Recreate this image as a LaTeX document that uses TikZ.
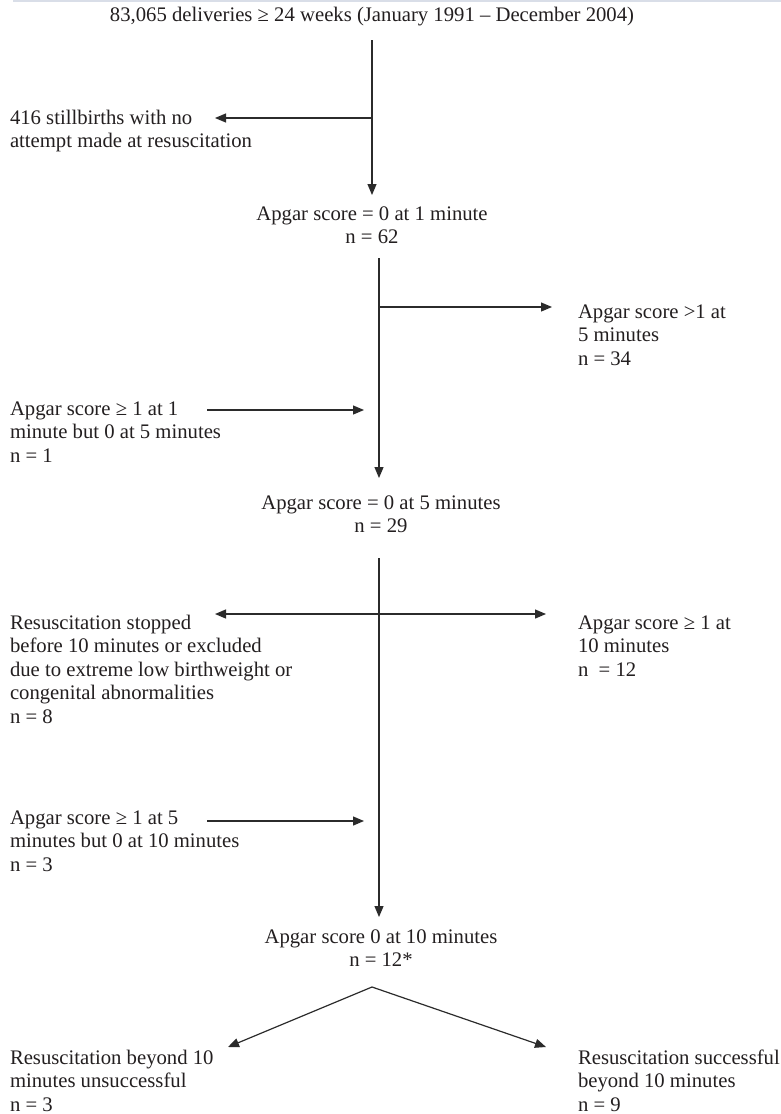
\documentclass[tikz,border=0pt]{standalone}
\usepackage{fontspec}
\setmainfont{Liberation Serif}
\usetikzlibrary{arrows.meta}
\definecolor{ink}{HTML}{231F20}
\definecolor{lin}{HTML}{2B2B2B}
\definecolor{rim}{HTML}{D9DEE8}
\begin{document}
\begin{tikzpicture}[x=1pt,y=-1pt,
  txt/.style={inner sep=0pt,outer sep=0pt,text=ink,font=\fontsize{20.7}{23.5}\selectfont},
  lt/.style={txt,anchor=base west,align=left},
  ct/.style={txt,anchor=base,align=center},
  conn/.style={draw=lin,line width=1.2pt},
  arr/.style={conn,-{Triangle[length=11pt,width=9pt]}},
  darr/.style={conn,{Triangle[length=11pt,width=9pt]}-{Triangle[length=11pt,width=9pt]}}]
\useasboundingbox (0,0) rectangle (781,1114);
\fill[white] (0,0) rectangle (781,1114);
\draw[rim,line width=1.5pt] (13,1) -- (781,1);

% texts (positions give the baseline of the last line)
\node[ct] (top) at (372,21) {83,065 deliveries ≥ 24 weeks (January 1991 – December 2004)};
\node[lt] (still) at (10,147.5) {416 stillbirths with no\\attempt made at resuscitation};
\node[ct] (a1) at (372,243.5) {Apgar score = 0 at 1 minute\\n = 62};
\node[lt] (r5) at (578,365) {Apgar score >1 at\\5 minutes\\n = 34};
\node[lt] (l1) at (10,462) {Apgar score ≥ 1 at 1\\minute but 0 at 5 minutes\\n = 1};
\node[ct] (a5) at (381,532.5) {Apgar score = 0 at 5 minutes\\n = 29};
\node[lt] (stop) at (10,723) {Resuscitation stopped\\before 10 minutes or excluded\\due to extreme low birthweight or\\congenital abnormalities\\n = 8};
\node[lt] (r10) at (578,676) {Apgar score ≥ 1 at\\10 minutes\\n\ \ = 12};
\node[lt] (l5) at (10,871) {Apgar score ≥ 1 at 5\\minutes but 0 at 10 minutes\\n = 3};
\node[ct] (a10) at (381,966.5) {Apgar score 0 at 10 minutes\\n = 12*};
\node[lt] (fail) at (10,1111) {Resuscitation beyond 10\\minutes unsuccessful\\n = 3};
\node[lt] (succ) at (578,1111) {Resuscitation successful\\beyond 10 minutes\\n = 9};

% connector points
\coordinate (s1) at (372,40);   \coordinate (e1) at (372,195);
\coordinate (j1) at (372,118);  \coordinate (t1) at (215,118);
\coordinate (s2) at (379,258);  \coordinate (e2) at (379,478);
\coordinate (j2) at (379,307);  \coordinate (t2) at (552,307);
\coordinate (f2) at (207,410);  \coordinate (g2) at (364,410);
\coordinate (s3) at (379,558);  \coordinate (e3) at (379,917);
\coordinate (dl) at (215,614);  \coordinate (dr) at (546,614);
\coordinate (f3) at (207,821);  \coordinate (g3) at (364,821);
\coordinate (ap) at (372,987);
\coordinate (tl) at (228,1047); \coordinate (tr) at (546,1047);

\draw[arr] (s1) -- (e1);
\draw[arr] (j1) -- (t1);
\draw[arr] (s2) -- (e2);
\draw[arr] (j2) -- (t2);
\draw[arr] (f2) -- (g2);
\draw[arr] (s3) -- (e3);
\draw[darr] (dl) -- (dr);
\draw[arr] (f3) -- (g3);
\draw[arr] (ap) -- (tl);
\draw[arr] (ap) -- (tr);
\end{tikzpicture}
\end{document}
